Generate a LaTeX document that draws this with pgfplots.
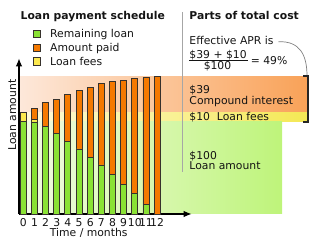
\documentclass[border=0pt]{standalone}
\usepackage{pgfplots}
\pgfplotsset{compat=1.18}
\usepackage{fontspec}
\setmainfont{DejaVu Sans}
\usetikzlibrary{arrows.meta}
\definecolor{cgreen}{RGB}{138,226,52}
\definecolor{corange}{RGB}{245,121,0}
\definecolor{cyellow}{RGB}{252,233,79}
\definecolor{cedge}{RGB}{55,50,45}
\definecolor{ctext}{RGB}{20,20,20}
\definecolor{oL}{RGB}{253,232,218}
\definecolor{oR}{RGB}{249,162,88}
\definecolor{yL}{RGB}{255,251,222}
\definecolor{yR}{RGB}{244,232,84}
\definecolor{gL}{RGB}{243,251,230}
\definecolor{gR}{RGB}{190,244,122}
\pgfplotsset{sqlegend/.style={legend image code/.code={\draw[##1] (0bp,-3.65bp) rectangle (7bp,3.65bp);}}}
\begin{document}
\begin{tikzpicture}[font=\fontsize{10.8bp}{13bp}\selectfont]
% backgrounds in pixel coordinates
\begin{scope}[shift={(-19bp,214bp)},x=1bp,y=-1bp]
 \shade[left color=oL, right color=oR] (19,76.2) rectangle (307,112.25);
 \shade[left color=yL, right color=yR] (19,112.25) rectangle (307,121.5);
 \shade[left color=gL, right color=gR] (19,121.5) rectangle (282,214);
 \draw[black!35, line width=0.8bp] (182,12) -- (182,172);
\end{scope}
\begin{axis}[
  at={(0,0)}, anchor=south west,
  x=11.15bp, y=0.925bp,
  xmin=-0.386, xmax=15.1, ymin=0, ymax=168.3,
  axis x line=bottom, axis y line=left,
  x axis line style={line width=1.3bp, black, -{Latex[length=8bp,width=6.5bp]}},
  y axis line style={line width=1.3bp, black, -{Latex[length=8bp,width=6.5bp]}},
  xtick={0,...,12}, ytick=\empty,
  major tick length=0pt,
  xticklabel style={anchor=base, inner sep=0pt, yshift=-12.3bp, text=ctext},
  /pgf/number format/assume math mode=true,
  ybar stacked, bar width=6bp,
  clip=false,
  legend style={at={(axis description cs:0.0828,1.1837)}, anchor=north west, draw=none, fill=none, inner sep=0pt, outer sep=0pt, row sep=5.6bp, column sep=9bp, nodes={inner sep=0pt, text height=8.1bp, text depth=0bp, text=ctext}},
  legend cell align=left,
]
\addlegendimage{sqlegend, fill=cgreen, draw=cedge, line width=0.9bp}
\addlegendimage{sqlegend, fill=corange, draw=cedge, line width=0.9bp}
\addlegendimage{sqlegend, fill=cyellow, draw=cedge, line width=0.9bp}
\addplot[fill=cgreen, draw=cedge, line width=0.9bp] coordinates {(0,100) (1,99.5) (2,95.1) (3,87.2) (4,78.9) (5,70.3) (6,61.3) (7,53) (8,42.9) (9,31.7) (10,22) (11,10.8) (12,0)};
\addplot[fill=cyellow, draw=cedge, line width=0.9bp] coordinates {(0,10) (1,3) (2,0) (3,0) (4,0) (5,0) (6,0) (7,0) (8,0) (9,0) (10,0) (11,0) (12,0)};
\addplot[fill=corange, draw=cedge, line width=0.9bp] coordinates {(0,0) (1,11.8) (2,25.2) (3,37.1) (4,50.8) (5,63.4) (6,75.2) (7,88) (8,100.3) (9,112.8) (10,124.3) (11,136.6) (12,148.9)};
\legend{Remaining loan, Amount paid, Loan fees}
\end{axis}
\begin{scope}[shift={(-19bp,214bp)},x=1bp,y=-1bp, every node/.style={inner sep=0pt, text=ctext}]
 \node[anchor=base west, font=\fontsize{10.8bp}{13bp}\selectfont\bfseries] at (20.5,19.6) {Loan payment schedule};
 \node[anchor=base west, font=\fontsize{10.8bp}{13bp}\selectfont\bfseries] at (189.3,19.6) {Parts of total cost};
 \node[anchor=base west] at (189.3,44.8) {Effective APR is};
 \draw[black!50, line width=0.7bp] (278.5,41.7) .. controls (300,41) and (307,55) .. (307,76);
 \node[anchor=base west] at (189.3,58.2) {\$39 + \$10};
 \draw[ctext, line width=0.8bp] (189.3,60.6) -- (248,60.6);
 \node[anchor=base] at (217.5,70) {\$100};
 \node[anchor=base west] at (250.7,64.3) {= 49\%};
 \node[anchor=base west] at (189.3,94) {\$39};
 \node[anchor=base west] at (189.3,104.2) {Compound interest};
 \node[anchor=base west] at (189.3,120.2) {\$10\ \ Loan fees};
 \node[anchor=base west] at (189.3,159.6) {\$100};
 \node[anchor=base west] at (189.3,169.6) {Loan amount};
 \draw[black!85, line width=1.5bp] (303,76.2) -- (308,76.2) -- (308,122) -- (303,122);
 \node[anchor=base, rotate=90] at (16,115) {Loan amount};
 \node[anchor=base] at (88.7,236.3) {Time / months};
\end{scope}
\pgfresetboundingbox
\path[use as bounding box] (-19bp,-32bp) rectangle (301bp,214bp);
\end{tikzpicture}
\end{document}
